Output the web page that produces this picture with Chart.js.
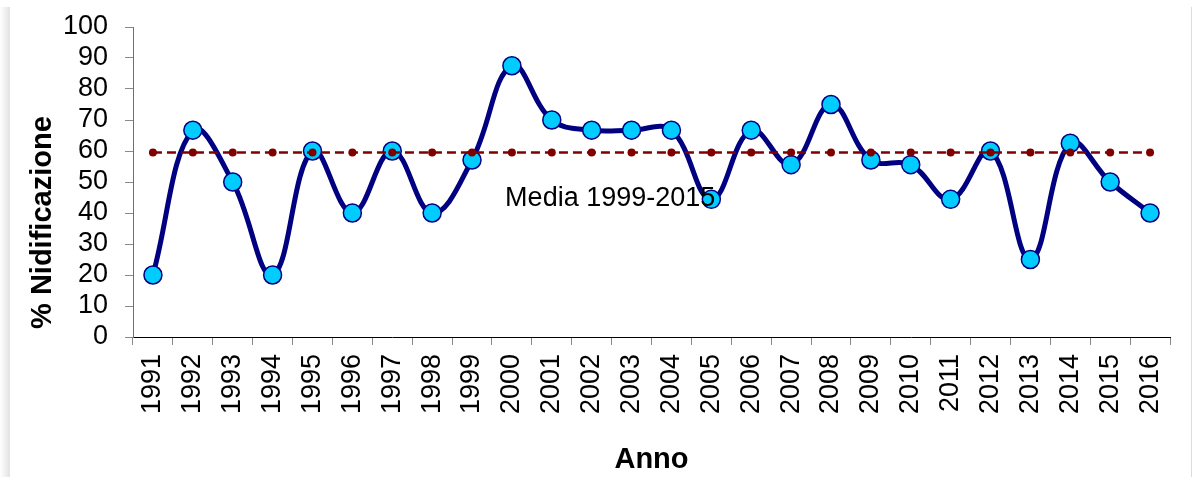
<!DOCTYPE html>
<html lang="it">
<head>
<meta charset="utf-8">
<title>% Nidificazione per anno</title>
<script src="https://cdn.jsdelivr.net/npm/chart.js@4/dist/chart.umd.min.js"></script>
<style>
  html, body { margin: 0; padding: 0; background: #fff; }
  body { width: 1192px; height: 477px; position: relative; overflow: hidden; }
  .edge-left {
    position: absolute; left: 0; top: 7px; width: 10px; bottom: 0;
    background: linear-gradient(to right, #ffffff, #e2e2e2);
  }
  .edge-right {
    position: absolute; left: 1191px; top: 7px; width: 1px; bottom: 0;
    background: #dcdcdc;
  }
  #chart { position: absolute; left: 0; top: 0; }
</style>
</head>
<body>
<div class="edge-left"></div>
<div class="edge-right"></div>
<canvas id="chart" width="1192" height="477"></canvas>
<script>
// Anni osservati
const categories = ['1991', '1992', '1993', '1994', '1995', '1996', '1997', '1998', '1999',
  '2000', '2001', '2002', '2003', '2004', '2005', '2006', '2007', '2008', '2009',
  '2010', '2011', '2012', '2013', '2014', '2015', '2016'];

// Percentuale di nidificazione per anno
const nidificazione = [20, 66.7, 50, 20, 60, 40, 60, 40, 57.1,
  87.5, 70, 66.7, 66.7, 66.7, 44.4, 66.7, 55.6, 75, 57.1,
  55.6, 44.4, 60, 25, 62.5, 50, 40];

// Media del periodo 1999-2015
const mediaValue = 59.5;
const mediaLabel = 'Media 1999-2015';

// Asse Y
const yMin = 0;
const yMax = 100;
const yStep = 10;

const FONT = 'Arial, "Liberation Sans", Helvetica, sans-serif';

// Scritta della media, ancorata ai valori delle scale
const mediaText = {
  id: 'mediaText',
  afterDatasetsDraw(chart) {
    const { ctx, scales: { x, y } } = chart;
    ctx.save();
    ctx.font = '27px ' + FONT;
    ctx.fillStyle = '#000';
    ctx.textAlign = 'left';
    ctx.textBaseline = 'middle';
    ctx.fillText(mediaLabel, x.getPixelForValue(8.83), y.getPixelForValue(44.8));
    ctx.restore();
  }
};

new Chart(document.getElementById('chart'), {
  type: 'line',
  data: {
    labels: categories,
    datasets: [
      {
        label: mediaLabel,
        data: categories.map(() => mediaValue),
        borderColor: '#800000',
        borderWidth: 2.5,
        borderDash: [9, 5],
        tension: 0,
        pointRadius: 4,
        pointBackgroundColor: '#800000',
        pointBorderWidth: 0,
        order: 0
      },
      {
        label: '% Nidificazione',
        data: nidificazione,
        borderColor: '#000080',
        borderWidth: 5,
        tension: 0.4,
        pointRadius: 9,
        pointBackgroundColor: '#00CCFF',
        pointBorderColor: '#000080',
        pointBorderWidth: 1.5,
        order: 1
      }
    ]
  },
  options: {
    responsive: false,
    animation: false,
    devicePixelRatio: 1,
    layout: { padding: { left: 0, right: 22, top: 27, bottom: 0 } },
    plugins: {
      legend: { display: false },
      tooltip: { enabled: false }
    },
    scales: {
      x: {
        type: 'category',
        offset: true,
        grid: { drawOnChartArea: false, offset: true, tickLength: 8, color: '#888', lineWidth: 1 },
        border: { color: '#000', width: 1 },
        ticks: {
          autoSkip: false, minRotation: 90, maxRotation: 90,
          color: '#000', padding: 9,
          font: { family: FONT, size: 27 }
        },
        title: {
          display: true, text: 'Anno', color: '#000',
          font: { family: FONT, size: 29, weight: 'bold' },
          padding: { top: 0, bottom: 0 }
        },
        afterFit(scale) { scale.height = 140; }
      },
      y: {
        min: yMin, max: yMax,
        grid: { drawOnChartArea: false, tickLength: 8, color: '#888', lineWidth: 1 },
        border: { color: '#707070', width: 1 },
        ticks: {
          stepSize: yStep, autoSkip: false, color: '#000', padding: 17,
          font: { family: FONT, size: 27 }
        },
        title: {
          display: true, text: ' % Nidificazione', align: 'start', color: '#000',
          font: { family: FONT, size: 29, weight: 'bold' },
          padding: { top: 26, bottom: 0 }
        },
        afterFit(scale) {
          scale.width = 133;
          scale.paddingTop = 0;
          scale.paddingBottom = 0;
        }
      }
    }
  },
  plugins: [mediaText]
});
</script>
</body>
</html>
